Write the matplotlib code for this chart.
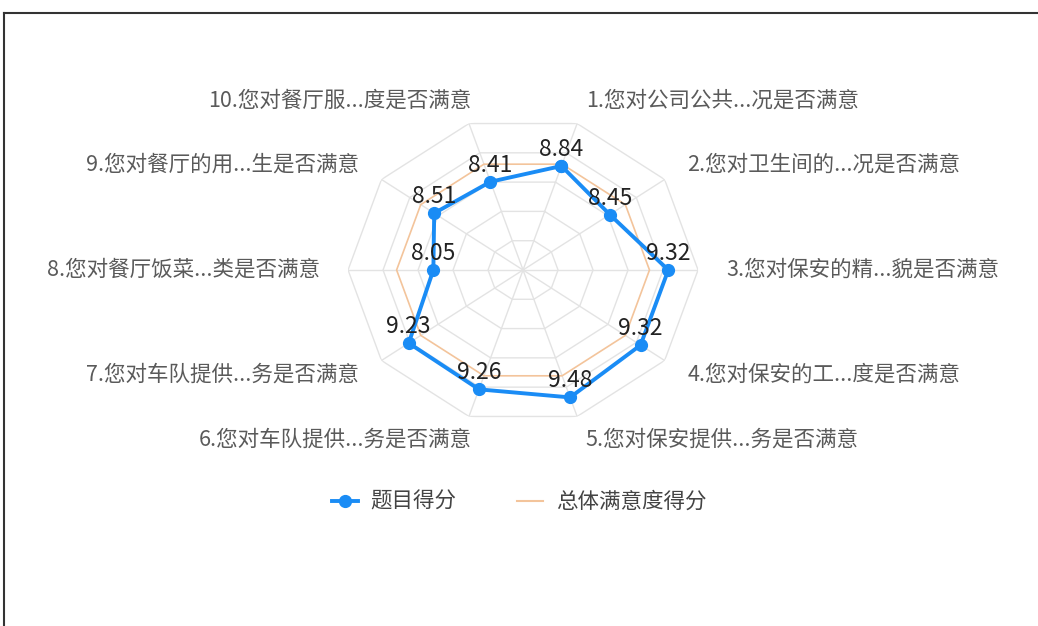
import numpy as np
import matplotlib
matplotlib.use('Agg')
import matplotlib.pyplot as plt
from matplotlib.lines import Line2D

plt.rcParams['font.family'] = ['Noto Sans CJK SC', 'DejaVu Sans']

# data
labels = ['1.您对公司公共...况是否满意', '2.您对卫生间的...况是否满意', '3.您对保安的精...貌是否满意',
          '4.您对保安的工...度是否满意', '5.您对保安提供...务是否满意', '6.您对车队提供...务是否满意',
          '7.您对车队提供...务是否满意', '8.您对餐厅饭菜...类是否满意', '9.您对餐厅的用...生是否满意',
          '10.您对餐厅服...度是否满意']
scores = [8.84, 8.45, 9.32, 9.32, 9.48, 9.26, 9.23, 8.05, 8.51, 8.41]
overall = [8.89] * 10
series_names = ['题目得分', '总体满意度得分']
r_min, r_max = 6, 10
rings = [6.8, 7.6, 8.4, 9.2, 10]

blue = '#1a8cf5'
orange = '#f3c49b'
grid_c = '#e3e3e3'

n = len(labels)
theta = np.arange(n) * 2 * np.pi / n
theta_c = np.append(theta, theta[0])

fig = plt.figure(figsize=(10.38, 6.26), dpi=100)
ax = fig.add_axes([0.3353, 0.3227, 0.3372, 0.492], projection='polar')
ax.set_theta_offset(np.deg2rad(72))
ax.set_theta_direction(-1)
ax.set_ylim(r_min, r_max)
ax.set_aspect('auto')
ax.grid(False)
ax.set_xticks([])
ax.set_yticks([])
ax.spines['polar'].set_visible(False)
ax.patch.set_alpha(0)

# decagon grid
for r in rings:
    ax.plot(theta_c, [r] * (n + 1), color=grid_c, lw=1, zorder=1)
for t in theta:
    ax.plot([t, t], [r_min, r_max], color=grid_c, lw=1, zorder=1)

ax.plot(theta_c, overall + overall[:1], color=orange, lw=1.2, zorder=2)
ax.plot(theta_c, scores + scores[:1], color=blue, lw=2.8, marker='o', ms=8.5, zorder=3)

for t, v in zip(theta, scores):
    ax.annotate(f'{v:.2f}', xy=(t, v), xytext=(0, 5), textcoords='offset pixels',
                ha='center', va='bottom', fontsize=16.5, color='#222222', zorder=4)

# axis names
nudge = [0, 0, 0, 0, 0, 11, 0, 0, 0, 11]
for i, (t, name) in enumerate(zip(theta, labels)):
    ang = (72 - 36 * i) % 360
    c = np.cos(np.deg2rad(ang))
    ha = 'left' if c > 0.01 else ('right' if c < -0.01 else 'center')
    ax.annotate(name, xy=(t, 10.64), xytext=(nudge[i], 0), textcoords='offset pixels',
                ha=ha, va='center', fontsize=15.5, color='#5a5a5a', annotation_clip=False)

handles = [Line2D([], [], color=blue, lw=2.8, marker='o', ms=8.5),
           Line2D([], [], color=orange, lw=1.5)]
fig.legend(handles, series_names, loc='center', bbox_to_anchor=(0.5, 0.198), ncol=2,
           frameon=False, fontsize=15.5, handlelength=1.2, columnspacing=2.8,
           handletextpad=0.6, labelcolor='#444444')

# frame of the screenshot
fig.add_artist(Line2D([0.004, 1], [1 - 12.5 / 626] * 2, color='#333333', lw=1.5))
fig.add_artist(Line2D([0.004] * 2, [0, 1 - 12.5 / 626], color='#333333', lw=1.5))

fig.savefig('out.png', dpi=100)
